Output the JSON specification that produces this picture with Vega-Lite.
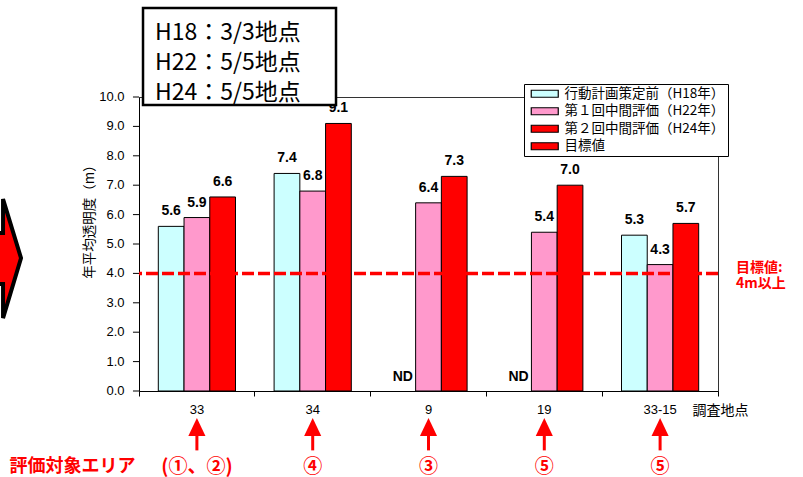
{
  "$schema": "https://vega.github.io/schema/vega-lite/v6.json",
  "autosize": "none",
  "width": 579,
  "height": 294,
  "padding": {"left": 139, "top": 97, "right": 85, "bottom": 86},
  "background": "#ffffff",
  "config": {
    "view": {"stroke": "#333333", "strokeWidth": 1},
    "axis": {"domainColor": "#000000", "tickColor": "#000000", "labelColor": "#000000", "titleColor": "#000000", "grid": false},
    "axisY": {"titleFontSize": 13.5, "titleFont": "Noto Sans CJK JP", "titleFontWeight": "normal"},
    "axisX": {"labelFontSize": 13, "labelFont": "Liberation Sans", "labelPadding": 7, "tickSize": 5, "labelAngle": 0, "titleFontSize": 14, "titleFont": "Noto Sans CJK JP", "titleFontWeight": "normal"},
    "text": {"font": "Liberation Sans"}
  },
  "resolve": {"scale": {"x": "independent", "y": "independent"}},
  "layer": [
    {
      "data": {
        "values": [
          {"site": "33", "series": "行動計画策定前（H18年）", "value": 5.6},
          {"site": "33", "series": "第１回中間評価（H22年）", "value": 5.9},
          {"site": "33", "series": "第２回中間評価（H24年）", "value": 6.6},
          {"site": "34", "series": "行動計画策定前（H18年）", "value": 7.4},
          {"site": "34", "series": "第１回中間評価（H22年）", "value": 6.8},
          {"site": "34", "series": "第２回中間評価（H24年）", "value": 9.1},
          {"site": "9", "series": "行動計画策定前（H18年）", "value": null},
          {"site": "9", "series": "第１回中間評価（H22年）", "value": 6.4},
          {"site": "9", "series": "第２回中間評価（H24年）", "value": 7.3},
          {"site": "19", "series": "行動計画策定前（H18年）", "value": null},
          {"site": "19", "series": "第１回中間評価（H22年）", "value": 5.4},
          {"site": "19", "series": "第２回中間評価（H24年）", "value": 7.0},
          {"site": "33-15", "series": "行動計画策定前（H18年）", "value": 5.3},
          {"site": "33-15", "series": "第１回中間評価（H22年）", "value": 4.3},
          {"site": "33-15", "series": "第２回中間評価（H24年）", "value": 5.7}
        ]
      },
      "layer": [
        {
          "transform": [{"filter": "isValid(datum.value)"}],
          "mark": {"type": "bar", "stroke": "#000000", "strokeWidth": 1},
          "encoding": {
            "x": {
              "field": "site", "type": "nominal", "sort": ["33", "34", "9", "19", "33-15"],
              "scale": {"paddingInner": 0, "paddingOuter": 0},
              "axis": {"title": "調査地点", "titleX": 581, "titleY": 19, "titleAlign": "center", "titleBaseline": "middle", "bandPosition": 1, "tickExtra": true}
            },
            "xOffset": {
              "field": "series", "type": "nominal",
              "sort": ["行動計画策定前（H18年）", "第１回中間評価（H22年）", "第２回中間評価（H24年）"],
              "scale": {"paddingInner": 0, "paddingOuter": 0.75}
            },
            "y": {
              "field": "value", "type": "quantitative",
              "scale": {"domain": [0, 10], "nice": false, "zero": false},
              "axis": {"title": "年平均透明度（m）", "titleX": -50, "titleY": 121, "titleAngle": -90, "titleAlign": "center", "titleBaseline": "middle", "labels": false, "ticks": false}
            },
            "color": {
              "field": "series", "type": "nominal",
              "scale": {
                "domain": ["行動計画策定前（H18年）", "第１回中間評価（H22年）", "第２回中間評価（H24年）", "目標値"],
                "range": ["#CCFFFF", "#FF99CC", "#FF0000", "#FF0000"]
              },
              "legend": {
                "title": null, "orient": "none", "legendX": 385, "legendY": -13,
                "strokeColor": "#000000", "fillColor": "#ffffff", "padding": 3, "rowPadding": 2.5,
                "labelFont": "Noto Sans CJK JP", "labelFontSize": 13.5, "labelColor": "#000000",
                "symbolType": "M-2.7,-0.7H2.7V0.7H-2.7Z", "symbolStrokeColor": "#000000", "symbolStrokeWidth": 1.2,
                "symbolSize": 100, "symbolOffset": 11, "labelOffset": 13
              }
            }
          }
        },
        {
          "transform": [{"filter": "isValid(datum.value)"}],
          "mark": {"type": "text", "font": "Liberation Sans", "fontWeight": "bold", "fontSize": 14, "letterSpacing": 1.5, "baseline": "middle", "dy": -15, "color": "#000000"},
          "encoding": {
            "x": {"field": "site", "type": "nominal", "sort": ["33", "34", "9", "19", "33-15"], "axis": {"title": "調査地点", "titleX": 581, "titleY": 19, "titleAlign": "center", "titleBaseline": "middle", "bandPosition": 1, "tickExtra": true}},
            "xOffset": {"field": "series", "type": "nominal", "sort": ["行動計画策定前（H18年）", "第１回中間評価（H22年）", "第２回中間評価（H24年）"]},
            "y": {"field": "value", "type": "quantitative", "scale": {"domain": [0, 10], "nice": false, "zero": false}, "axis": {"title": "年平均透明度（m）", "titleX": -50, "titleY": 121, "titleAngle": -90, "titleAlign": "center", "titleBaseline": "middle", "labels": false, "ticks": false}},
            "text": {"field": "value", "type": "quantitative", "format": ".1f"}
          }
        },
        {
          "transform": [{"filter": "!isValid(datum.value)"}],
          "mark": {"type": "text", "font": "Liberation Sans", "fontWeight": "bold", "fontSize": 14, "letterSpacing": 1, "baseline": "middle", "color": "#000000"},
          "encoding": {
            "x": {"field": "site", "type": "nominal", "sort": ["33", "34", "9", "19", "33-15"], "axis": {"title": "調査地点", "titleX": 581, "titleY": 19, "titleAlign": "center", "titleBaseline": "middle", "bandPosition": 1, "tickExtra": true}},
            "xOffset": {"field": "series", "type": "nominal", "sort": ["行動計画策定前（H18年）", "第１回中間評価（H22年）", "第２回中間評価（H24年）"]},
            "y": {"datum": 0.48, "type": "quantitative", "scale": {"domain": [0, 10], "nice": false, "zero": false}, "axis": {"title": "年平均透明度（m）", "titleX": -50, "titleY": 121, "titleAngle": -90, "titleAlign": "center", "titleBaseline": "middle", "labels": false, "ticks": false}},
            "text": {"value": "ND"}
          }
        },
        {
          "data": {"values": [{"target": 4}]},
          "mark": {"type": "rule", "color": "#FF0000", "strokeWidth": 3.5, "strokeDash": [12, 4]},
          "encoding": {
            "y": {"field": "target", "type": "quantitative", "scale": {"domain": [0, 10], "nice": false, "zero": false}, "axis": {"title": "年平均透明度（m）", "titleX": -50, "titleY": 121, "titleAngle": -90, "titleAlign": "center", "titleBaseline": "middle", "labels": false, "ticks": false}}
          }
        },
        {
          "data": {
            "values": [
              {"site": "33", "area": "(①、②)"},
              {"site": "34", "area": "④"},
              {"site": "9", "area": "③"},
              {"site": "19", "area": "⑤"},
              {"site": "33-15", "area": "⑤"}
            ]
          },
          "layer": [
            {
              "mark": {"type": "rule", "color": "#FF0000", "strokeWidth": 3},
              "encoding": {
                "x": {"field": "site", "type": "nominal", "sort": ["33", "34", "9", "19", "33-15"], "axis": {"title": "調査地点", "titleX": 581, "titleY": 19, "titleAlign": "center", "titleBaseline": "middle", "bandPosition": 1, "tickExtra": true}},
                "y": {"datum": -1.25, "type": "quantitative", "scale": {"domain": [0, 10], "nice": false, "zero": false}, "axis": {"title": "年平均透明度（m）", "titleX": -50, "titleY": 121, "titleAngle": -90, "titleAlign": "center", "titleBaseline": "middle", "labels": false, "ticks": false}},
                "y2": {"datum": -2.02}
              }
            },
            {
              "mark": {"type": "point", "shape": "M0,-1L-0.95,1L0.95,1Z", "size": 324, "filled": true, "fill": "#FF0000", "stroke": null, "opacity": 1},
              "encoding": {
                "x": {"field": "site", "type": "nominal", "sort": ["33", "34", "9", "19", "33-15"], "axis": {"title": "調査地点", "titleX": 581, "titleY": 19, "titleAlign": "center", "titleBaseline": "middle", "bandPosition": 1, "tickExtra": true}},
                "y": {"datum": -1.224, "type": "quantitative", "scale": {"domain": [0, 10], "nice": false, "zero": false}, "axis": {"title": "年平均透明度（m）", "titleX": -50, "titleY": 121, "titleAngle": -90, "titleAlign": "center", "titleBaseline": "middle", "labels": false, "ticks": false}}
              }
            },
            {
              "mark": {"type": "text", "font": "Noto Sans CJK JP", "fontWeight": "bold", "fontSize": 19, "color": "#FF0000", "baseline": "middle"},
              "encoding": {
                "x": {"field": "site", "type": "nominal", "sort": ["33", "34", "9", "19", "33-15"], "axis": {"title": "調査地点", "titleX": 581, "titleY": 19, "titleAlign": "center", "titleBaseline": "middle", "bandPosition": 1, "tickExtra": true}},
                "y": {"datum": -2.585, "type": "quantitative", "scale": {"domain": [0, 10], "nice": false, "zero": false}, "axis": {"title": "年平均透明度（m）", "titleX": -50, "titleY": 121, "titleAngle": -90, "titleAlign": "center", "titleBaseline": "middle", "labels": false, "ticks": false}},
                "text": {"field": "area"}
              }
            }
          ]
        }
      ]
    },
    {
      "data": {"values": [{"note": "annotation"}]},
      "layer": [
        {
          "data": {"values": [{"tick": 0}, {"tick": 1}, {"tick": 2}, {"tick": 3}, {"tick": 4}, {"tick": 5}, {"tick": 6}, {"tick": 7}, {"tick": 8}, {"tick": 9}, {"tick": 10}]},
          "layer": [
            {
              "mark": {"type": "rule", "color": "#000000", "strokeWidth": 1},
              "encoding": {
                "x": {"datum": -0.052, "type": "quantitative", "scale": {"domain": [0, 5], "nice": false, "zero": false}, "axis": null},
                "x2": {"datum": 0},
                "y": {"field": "tick", "type": "quantitative", "scale": {"domain": [0, 10], "nice": false, "zero": false}, "axis": null}
              }
            },
            {
              "mark": {"type": "text", "font": "Liberation Sans", "fontSize": 13, "align": "right", "baseline": "middle", "color": "#000000"},
              "encoding": {
                "x": {"datum": -0.125, "type": "quantitative", "scale": {"domain": [0, 5], "nice": false, "zero": false}, "axis": null},
                "y": {"field": "tick", "type": "quantitative", "scale": {"domain": [0, 10], "nice": false, "zero": false}, "axis": null},
                "text": {"field": "tick", "type": "quantitative", "format": ".1f"}
              }
            }
          ]
        },
        {
          "mark": {"type": "point", "shape": "M21,0L3,-59L3,-25L-60,-25L-60,26L3,26L3,60Z", "size": 4, "filled": true, "fill": "#FF0000", "stroke": "#000000", "strokeWidth": 4, "opacity": 1},
          "encoding": {
            "x": {"datum": -1.2, "type": "quantitative", "scale": {"domain": [0, 5], "nice": false, "zero": false}, "axis": null},
            "y": {"datum": 4.52, "type": "quantitative", "scale": {"domain": [0, 10], "nice": false, "zero": false}, "axis": null}
          }
        },
        {
          "mark": {"type": "point", "shape": "M-96.5,-48.5H96.5V48.5H-96.5Z", "size": 4, "filled": true, "fill": "#ffffff", "stroke": "#000000", "strokeWidth": 2.5, "opacity": 1},
          "encoding": {
            "x": {"datum": 0.868, "type": "quantitative", "scale": {"domain": [0, 5], "nice": false, "zero": false}, "axis": null},
            "y": {"datum": 11.38, "type": "quantitative", "scale": {"domain": [0, 10], "nice": false, "zero": false}, "axis": null}
          }
        },
        {
          "mark": {"type": "text", "text": ["H18：3/3地点", "H22：5/5地点", "H24：5/5地点"], "lineHeight": 30, "font": "Noto Sans CJK JP", "fontSize": 23, "align": "left", "baseline": "middle", "color": "#000000"},
          "encoding": {
            "x": {"datum": 0.138, "type": "quantitative", "scale": {"domain": [0, 5], "nice": false, "zero": false}, "axis": null},
            "y": {"datum": 12.18, "type": "quantitative", "scale": {"domain": [0, 10], "nice": false, "zero": false}, "axis": null}
          }
        },
        {
          "mark": {"type": "text", "text": ["目標値:", "4m以上"], "lineHeight": 16, "font": "Noto Sans CJK JP", "fontWeight": "bold", "fontSize": 14, "align": "left", "baseline": "middle", "color": "#FF0000"},
          "encoding": {
            "x": {"datum": 5.155, "type": "quantitative", "scale": {"domain": [0, 5], "nice": false, "zero": false}, "axis": null},
            "y": {"datum": 4.18, "type": "quantitative", "scale": {"domain": [0, 10], "nice": false, "zero": false}, "axis": null}
          }
        },
        {
          "mark": {"type": "text", "text": "評価対象エリア", "font": "Noto Sans CJK JP", "fontWeight": "bold", "fontSize": 18, "align": "center", "baseline": "middle", "color": "#FF0000"},
          "encoding": {
            "x": {"datum": -0.574, "type": "quantitative", "scale": {"domain": [0, 5], "nice": false, "zero": false}, "axis": null},
            "y": {"datum": -2.585, "type": "quantitative", "scale": {"domain": [0, 10], "nice": false, "zero": false}, "axis": null}
          }
        }
      ]
    }
  ]
}
